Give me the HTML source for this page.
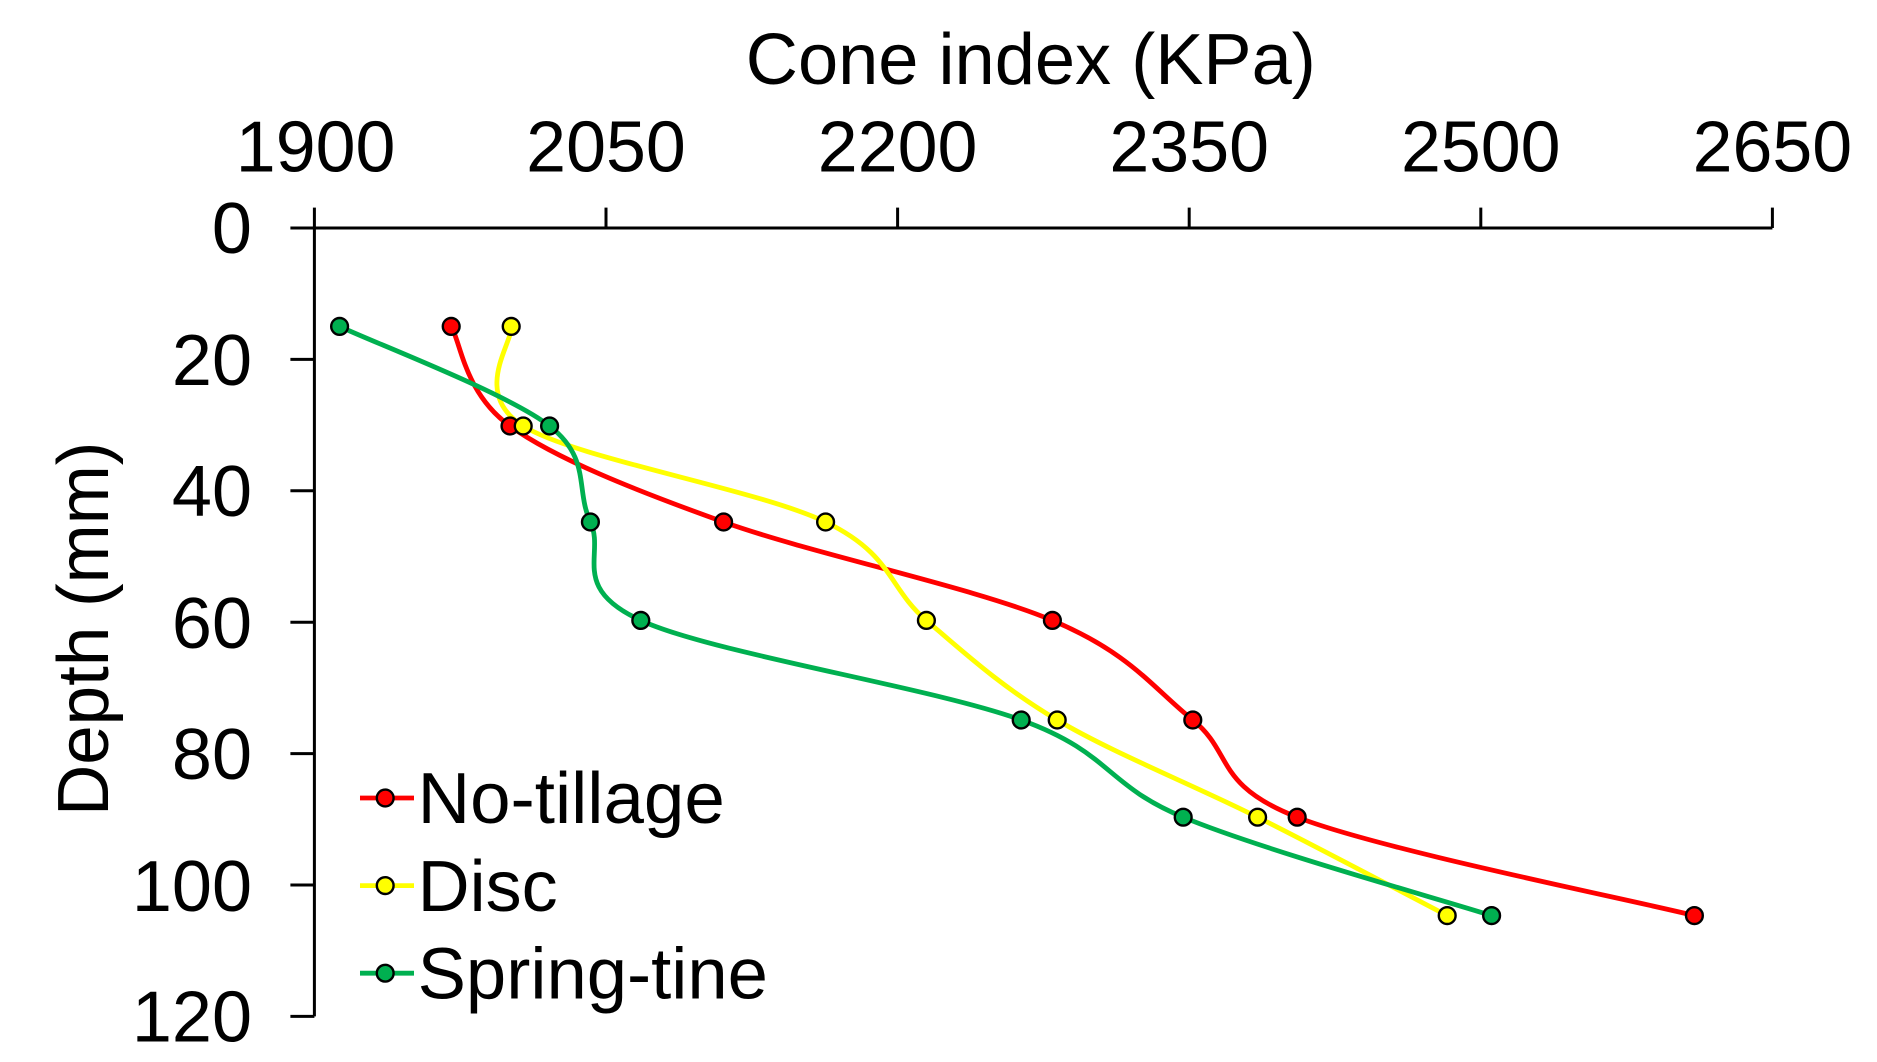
<!DOCTYPE html>
<html><head><meta charset="utf-8"><style>
html,body{margin:0;padding:0;background:#fff;}
svg{display:block;}
text{font-family:"Liberation Sans",Arial,sans-serif;fill:#000;}
</style></head><body>
<svg width="1877" height="1062" viewBox="0 0 1564.17 885" preserveAspectRatio="none" xmlns="http://www.w3.org/2000/svg">
<rect width="1564.17" height="885" fill="#fff"/>
<g stroke="#000" stroke-width="2.5" fill="none">
<line x1="262" y1="190" x2="1477" y2="190"/>
<line x1="262" y1="190" x2="262" y2="847"/>
<line x1="262" y1="173" x2="262" y2="190"/>
<line x1="505" y1="173" x2="505" y2="190"/>
<line x1="748" y1="173" x2="748" y2="190"/>
<line x1="991" y1="173" x2="991" y2="190"/>
<line x1="1234" y1="173" x2="1234" y2="190"/>
<line x1="1477" y1="173" x2="1477" y2="190"/>
<line x1="242" y1="190" x2="262" y2="190"/>
<line x1="242" y1="299.5" x2="262" y2="299.5"/>
<line x1="242" y1="409" x2="262" y2="409"/>
<line x1="242" y1="518.5" x2="262" y2="518.5"/>
<line x1="242" y1="628" x2="262" y2="628"/>
<line x1="242" y1="737.5" x2="262" y2="737.5"/>
<line x1="242" y1="847" x2="262" y2="847"/>
</g>
<g font-size="60" text-anchor="middle">
<text x="263" y="143" textLength="133" lengthAdjust="spacingAndGlyphs">1900</text>
<text x="505" y="143" textLength="133" lengthAdjust="spacingAndGlyphs">2050</text>
<text x="748" y="143" textLength="133" lengthAdjust="spacingAndGlyphs">2200</text>
<text x="991" y="143" textLength="133" lengthAdjust="spacingAndGlyphs">2350</text>
<text x="1234" y="143" textLength="133" lengthAdjust="spacingAndGlyphs">2500</text>
<text x="1477" y="143" textLength="133" lengthAdjust="spacingAndGlyphs">2650</text>
<text x="859" y="70" textLength="475" lengthAdjust="spacingAndGlyphs">Cone index (KPa)</text>
</g>
<g font-size="60" text-anchor="end">
<text x="210" y="211">0</text>
<text x="210" y="321">20</text>
<text x="210" y="430">40</text>
<text x="210" y="540">60</text>
<text x="210" y="649">80</text>
<text x="210" y="759">100</text>
<text x="210" y="868">120</text>
</g>
<text font-size="60" text-anchor="middle" transform="translate(90,524) rotate(-90)" textLength="312" lengthAdjust="spacingAndGlyphs">Depth (mm)</text>
<g id="series" fill="none" stroke-width="4"></g>
<g font-size="60">
<line x1="300" y1="665" x2="345" y2="665" stroke="#ff0000" stroke-width="4"/>
<circle cx="321" cy="665" r="7" fill="#ff0000" stroke="#000" stroke-width="2"/>
<text x="348" y="686" textLength="256" lengthAdjust="spacingAndGlyphs">No-tillage</text>
<line x1="300" y1="738" x2="345" y2="738" stroke="#ffff00" stroke-width="4"/>
<circle cx="321" cy="738" r="7" fill="#ffff00" stroke="#000" stroke-width="2"/>
<text x="348" y="759">Disc</text>
<line x1="300" y1="811" x2="345" y2="811" stroke="#00b050" stroke-width="4"/>
<circle cx="321" cy="811" r="7" fill="#00b050" stroke="#000" stroke-width="2"/>
<text x="348" y="832" textLength="292" lengthAdjust="spacingAndGlyphs">Spring-tine</text>
</g>
</svg>
<script>
const data=[
["#ff0000",[[376,272],[425,355],[603,435],[877,517],[994,600],[1081,681],[1412,763]]],
["#ffff00",[[426,272],[436,355],[688,435],[772,517],[881,600],[1048,681],[1206,763]]],
["#00b050",[[283,272],[458,355],[492,435],[534,517],[851,600],[986,681],[1243,763]]]];
const g=document.getElementById('series');
let lines="",marks="";
for(const [c,p] of data){
 let d="M"+p[0][0]+","+p[0][1];
 for(let i=0;i<p.length-1;i++){
  const p0=p[i-1]||p[i],p1=p[i],p2=p[i+1],p3=p[i+2]||p[i+1];
  const t=1/6;
  d+=` C${p1[0]+(p2[0]-p0[0])*t},${p1[1]+(p2[1]-p0[1])*t} ${p2[0]-(p3[0]-p1[0])*t},${p2[1]-(p3[1]-p1[1])*t} ${p2[0]},${p2[1]}`;
 }
 lines+=`<path d="${d}" stroke="${c}"/>`;
 for(const q of p) marks+=`<circle cx="${q[0]}" cy="${q[1]}" r="7" fill="${c}" stroke="#000" stroke-width="2"/>`;
}
g.innerHTML=lines+marks;
</script>
</body></html>
